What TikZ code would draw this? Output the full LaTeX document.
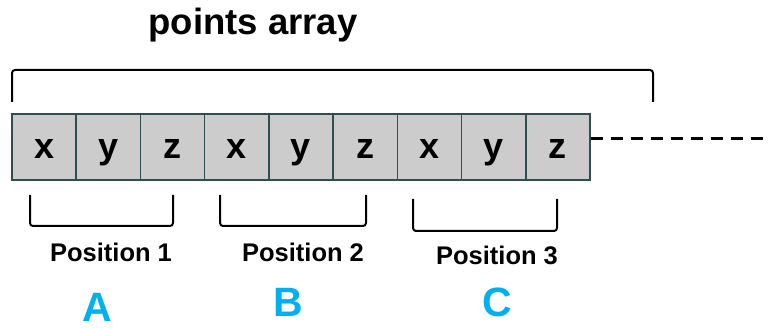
\documentclass[tikz,border=0pt]{standalone}
\usepackage{fontspec}
\setmainfont{Liberation Sans}
\definecolor{cellfill}{HTML}{CCCCCC}
\definecolor{celldraw}{HTML}{2F4F4F}
\definecolor{letterblue}{HTML}{00B0F0}
\begin{document}
\begin{tikzpicture}[x=1pt,y=-1pt,
  cell/.style={draw=celldraw,line width=1.5pt,fill=cellfill,inner sep=0pt,
    minimum width=64.22pt,minimum height=66pt,text height=45pt,text depth=21pt,
    font=\fontsize{36}{36}\selectfont\bfseries},
  brace/.style={draw=black,line width=2pt,rounded corners=3pt},
  title/.style={anchor=base,inner sep=0pt,font=\fontsize{36.5}{36.5}\selectfont\bfseries},
  poslabel/.style={anchor=base,inner sep=0pt,font=\fontsize{25.5}{25.5}\selectfont\bfseries},
  bigletter/.style={anchor=base,inner sep=0pt,text=letterblue,font=\fontsize{41}{41}\selectfont\bfseries},
  dashline/.style={draw=black,line width=3pt,dash pattern=on 12pt off 8pt}
]
\useasboundingbox (0,0) rectangle (768,328);
% title
\node[title] (title) at (253,35) {points array};
% top bracket
\draw[brace] (12,102) -- (12,70) -- (653,70) -- (653,102);
% cells
\foreach \i/\t in {0/x,1/y,2/z,3/x,4/y,5/z,6/x,7/y,8/z}{
  \node[cell] (c\i) at ({12+64.22*(\i+0.5)},147) {\t};
}
% dashed continuation
\coordinate (dend) at (768,139);
\draw[dashline] (c8.east |- dend) -- (dend);
% bottom brackets
\draw[brace] (30,195) -- (30,226) -- (173,226) -- (173,195);
\draw[brace] (220,195) -- (220,226) -- (366,226) -- (366,195);
\draw[brace] (413,199) -- (413,231) -- (557,231) -- (557,199);
% labels
\node[poslabel] (p1) at (111,262) {Position 1};
\node[poslabel] (p2) at (303,262) {Position 2};
\node[poslabel] (p3) at (497,265) {Position 3};
\node[bigletter] (la) at (97,322) {A};
\node[bigletter] (lb) at (288,317) {B};
\node[bigletter] (lc) at (497,317) {C};
\end{tikzpicture}
\end{document}
